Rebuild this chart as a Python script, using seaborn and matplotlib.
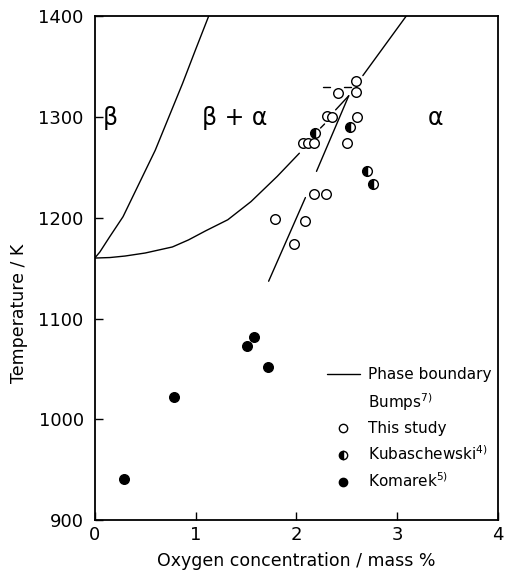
import numpy as np
import pandas as pd
import matplotlib
matplotlib.use("Agg")
import matplotlib.pyplot as plt
from matplotlib.lines import Line2D
import seaborn as sns

# boundary curves
left_x = [0, 0.05, 0.147, 0.28, 0.44, 0.6, 0.735, 0.87, 0.997, 1.13]
left_y = [1160, 1166, 1181, 1201, 1234, 1267, 1300, 1333, 1366, 1400]

lower_x = [0, 0.15, 0.3, 0.5, 0.77, 0.93, 1.1, 1.32, 1.55, 1.81, 2.03]
lower_y = [1160, 1160.5, 1162, 1165, 1171, 1178, 1187, 1198, 1216, 1241, 1264]
dash1_x = [2.24, 2.28]
dash1_y = [1289, 1293]
upper_mid_x = [2.39, 2.52]
upper_mid_y = [1307, 1321]
upper_top_x = [2.66, 3.09]
upper_top_y = [1341, 1400]
hbar1_x = [2.26, 2.33]
hbar1_y = [1330, 1330]
hbar2_x = [2.47, 2.54]
hbar2_y = [1330, 1330]

steep_low_x = [1.725, 2.09]
steep_low_y = [1137, 1220]
steep_high_x = [2.20, 2.52]
steep_high_y = [1246, 1321]

# data points
study_x = [2.59, 2.59, 2.41, 2.30, 2.35, 2.60, 2.07, 2.12, 2.18, 2.50, 2.18, 2.29, 1.79, 2.09, 1.98]
study_y = [1336, 1325, 1324, 1301, 1300, 1300, 1274, 1274, 1274, 1274, 1224, 1224, 1199, 1197, 1174]

kuba_x = [2.19, 2.53, 2.70, 2.76]
kuba_y = [1284, 1290, 1246, 1233]

koma_x = [0.29, 0.79, 1.51, 1.58, 1.72]
koma_y = [941, 1022, 1073, 1082, 1052]

sns.set_style("ticks")
plt.rcParams['font.family'] = ['DejaVu Sans']
plt.rcParams['xtick.direction'] = 'in'
plt.rcParams['ytick.direction'] = 'in'
plt.rcParams['text.color'] = 'black'
plt.rcParams['axes.labelcolor'] = 'black'

fig = plt.figure(figsize=(5.07, 5.76), dpi=100)
ax = fig.add_axes([0.187, 0.097, 0.795, 0.875])

line_kw = dict(color='black', linewidth=1.0, estimator=None, sort=False, ax=ax, legend=False)
for xs, ys in [(left_x, left_y), (lower_x, lower_y), (dash1_x, dash1_y),
               (upper_mid_x, upper_mid_y), (upper_top_x, upper_top_y),
               (hbar1_x, hbar1_y), (hbar2_x, hbar2_y),
               (steep_low_x, steep_low_y), (steep_high_x, steep_high_y)]:
    sns.lineplot(x=xs, y=ys, **line_kw)

sns.scatterplot(x=study_x, y=study_y, s=48, facecolor='white', edgecolor='black',
                linewidth=1.0, ax=ax, zorder=3)
ax.plot(kuba_x, kuba_y, linestyle='none', marker='o', markersize=7, fillstyle='left',
        markerfacecolor='black', markerfacecoloralt='white', markeredgecolor='black',
        markeredgewidth=1.0, zorder=3)
sns.scatterplot(x=koma_x, y=koma_y, s=48, color='black', edgecolor='black',
                linewidth=1.0, ax=ax, zorder=3)

ax.text(0.15, 1299, 'β', fontsize=17, ha='center', va='center')
ax.text(1.39, 1299, 'β + α', fontsize=17, ha='center', va='center')
ax.text(3.38, 1299, 'α', fontsize=17, ha='center', va='center')

ax.set_xlim(0, 4)
ax.set_ylim(900, 1400)
ax.set_xticks([0, 1, 2, 3, 4])
ax.set_yticks([900, 1000, 1100, 1200, 1300, 1400])
ax.tick_params(length=6, width=1, labelsize=13, colors='black')
ax.tick_params(axis='x', pad=4)
ax.tick_params(axis='y', pad=8)
for sp in ax.spines.values():
    sp.set_linewidth(1.3)
    sp.set_color('black')
    sp.set_visible(True)

ax.set_xlabel('Oxygen concentration / mass %', fontsize=12.5, labelpad=6)
ax.set_ylabel('Temperature / K', fontsize=12.5)
ax.yaxis.set_label_coords(-0.165, 0.41)

handles = [
    Line2D([], [], color='black', linewidth=1.0),
    Line2D([], [], linestyle='none'),
    Line2D([], [], linestyle='none', marker='o', markersize=6, markerfacecolor='white',
           markeredgecolor='black'),
    Line2D([], [], linestyle='none', marker='o', markersize=6, fillstyle='left',
           markerfacecolor='black', markerfacecoloralt='white', markeredgecolor='black'),
    Line2D([], [], linestyle='none', marker='o', markersize=6, markerfacecolor='black',
           markeredgecolor='black'),
]
labels = ['Phase boundary', r'Bumps$^{7)}$', 'This study',
          r'Kubaschewski$^{4)}$', r'Komarek$^{5)}$']
ax.legend(handles, labels, loc='upper left', bbox_to_anchor=(0.56, 0.315),
          frameon=False, fontsize=11, handlelength=2.2, handletextpad=0.5,
          labelspacing=0.55, borderaxespad=0)

fig.savefig('out.png', dpi=100)
